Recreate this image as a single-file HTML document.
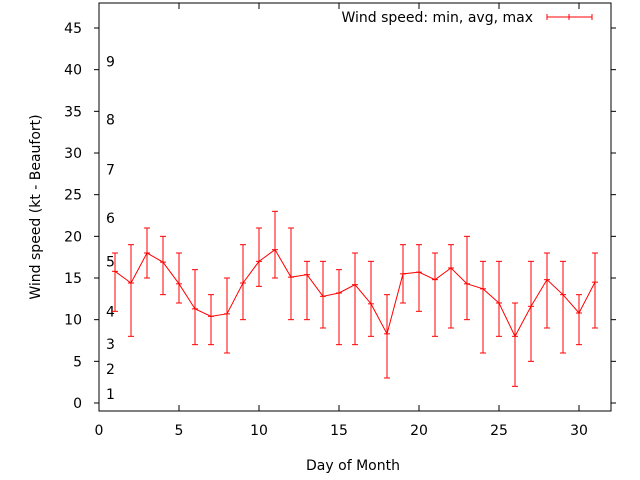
<!DOCTYPE html>
<html><head><meta charset="utf-8"><style>
body{margin:0;background:#fff;}
svg{display:block;font-family:"DejaVu Sans","Liberation Sans",sans-serif;}
</style></head><body>
<svg id="chart" width="640" height="480"></svg>
<script>
const days=[1,2,3,4,5,6,7,8,9,10,11,12,13,14,15,16,17,18,19,20,21,22,23,24,25,26,27,28,29,30,31];
const avgSpeed=[15.8,14.4,18,16.9,14.3,11.3,10.4,10.7,14.4,17,18.4,15.1,15.4,12.8,13.2,14.2,11.9,8.3,15.5,15.7,14.8,16.2,14.3,13.7,12,8,11.6,14.8,13,10.8,14.5];
const minSpeed=[11,8,15,13,12,7,7,6,10,14,15,10,10,9,7,7,8,3,12,11,8,9,10,6,8,2,5,9,6,7,9];
const maxSpeed=[18,19,21,20,18,16,13,15,19,21,23,21,17,17,16,18,17,13,19,19,18,19,20,17,17,12,17,18,17,13,18];
const xTicks=[0,5,10,15,20,25,30];
const yTicks=[0,5,10,15,20,25,30,35,40,45];
const beaufortLabels=["1","2","3","4","5","6","7","8","9"];
const beaufortPos=[1.1,4.1,7.1,11,17,22.2,28,34,41];

const L=99,R=611,T=3,B=411,xMin=0,xMax=32,yMin=-0.96,yMax=48;
const X=v=>L+(v-xMin)/(xMax-xMin)*(R-L);
const Y=v=>B-(v-yMin)/(yMax-yMin)*(B-T);
const svg=document.getElementById('chart');
const NS='http://www.w3.org/2000/svg';
function mk(tag,attrs,parent){const e=document.createElementNS(NS,tag);for(const k in attrs)e.setAttribute(k,attrs[k]);(parent||svg).appendChild(e);return e;}

const frame=mk('rect',{x:L,y:T,width:R-L,height:B-T,fill:'none',stroke:'#000','stroke-width':1});



xTicks.forEach(v=>{
  const t=mk('line',{x1:X(v),x2:X(v),y1:B,y2:B-6,stroke:'#000'});
  
  
  const t2=mk('line',{x1:X(v),x2:X(v),y1:T,y2:T+6,stroke:'#000'});
  
  
  const l=mk('text',{x:X(v),y:B+24,'text-anchor':'middle','font-size':14,fill:'#000'});
  l.textContent=v;
  
  
});
yTicks.forEach(v=>{
  const t=mk('line',{x1:L-5,x2:L,y1:Y(v),y2:Y(v),stroke:'#000'});
  
  
  const t2=mk('line',{x1:R,x2:R+5,y1:Y(v),y2:Y(v),stroke:'#000'});
  
  
  const l=mk('text',{x:L-17,y:Y(v)+5,'text-anchor':'end','font-size':14,fill:'#000'});
  l.textContent=v;
  
  
});
beaufortLabels.forEach((s,i)=>{
  const l=mk('text',{x:106,y:Y(beaufortPos[i])+5,'font-size':14,fill:'#000'});
  l.textContent=s;
  
  
});

const xt=mk('text',{x:353,y:470,'text-anchor':'middle','font-size':14,fill:'#000'});
xt.textContent='Day of Month';


const yt=mk('text',{x:40,y:207,'text-anchor':'middle','font-size':14,fill:'#000',transform:'rotate(-90 40 207)'});
yt.textContent='Wind speed (kt - Beaufort)';



days.forEach((d,i)=>{
  const g=mk('g',{stroke:'#f00','stroke-width':1});
  
  
  const x=X(d);
  mk('line',{x1:x,x2:x,y1:Y(minSpeed[i]),y2:Y(maxSpeed[i])},g);
  mk('line',{x1:x-3,x2:x+3,y1:Y(minSpeed[i]),y2:Y(minSpeed[i])},g);
  mk('line',{x1:x-3,x2:x+3,y1:Y(maxSpeed[i]),y2:Y(maxSpeed[i])},g);
  mk('line',{x1:x-3,x2:x+3,y1:Y(avgSpeed[i]),y2:Y(avgSpeed[i])},g);
});
const pl=mk('polyline',{points:days.map((d,i)=>X(d)+','+Y(avgSpeed[i])).join(' '),fill:'none',stroke:'#f00','stroke-width':1});



const lg=mk('g',{});


const lt=mk('text',{x:533,y:22,'text-anchor':'end','font-size':14,fill:'#000'},lg);
lt.textContent='Wind speed: min, avg, max';
mk('line',{x1:547,x2:592,y1:17,y2:17,stroke:'#f00'},lg);
mk('line',{x1:547,x2:547,y1:14,y2:20,stroke:'#f00'},lg);
mk('line',{x1:592,x2:592,y1:14,y2:20,stroke:'#f00'},lg);
mk('line',{x1:569,x2:569,y1:14,y2:20,stroke:'#f00'},lg);
</script>
</body></html>
